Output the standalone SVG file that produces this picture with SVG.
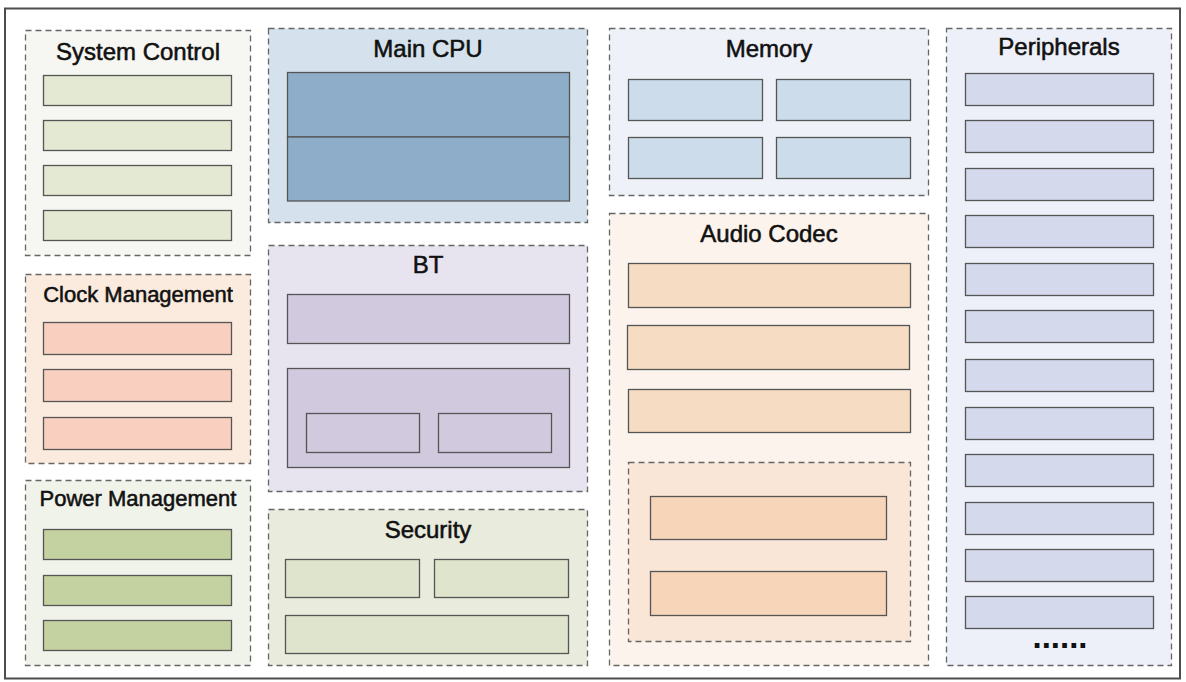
<svg xmlns="http://www.w3.org/2000/svg" width="1186" height="682" viewBox="0 0 1186 682">
<style>
.grp{stroke:#666;stroke-width:1.3;stroke-dasharray:6 4}
.blk{stroke:#555;stroke-width:1.3}
.t{font-family:"Liberation Sans",Arial,sans-serif;font-weight:normal;font-size:24px;fill:#111;stroke:#111;stroke-width:0.55;text-anchor:middle}
.ts{font-size:22px}
</style>
<rect x="0" y="0" width="1186" height="682" fill="#fff"/>
<rect id="frame" x="5" y="8.5" width="1175" height="670" fill="#fff" stroke="#4d4d4d" stroke-width="2"/>

<g id="system-control">
<rect class="grp" x="25.5" y="30.5" width="225" height="225" fill="#f6f7f2"/>
<text class="t" x="138" y="60">System Control</text>
<g fill="#e3e9d3">
<rect class="blk" x="43.5" y="75.5" width="188" height="30"/>
<rect class="blk" x="43.5" y="120.5" width="188" height="30"/>
<rect class="blk" x="43.5" y="165.5" width="188" height="30"/>
<rect class="blk" x="43.5" y="210.5" width="188" height="30"/>
</g>
</g>

<g id="clock-management">
<rect class="grp" x="25.5" y="274.5" width="225" height="189" fill="#fbebde"/>
<text class="t ts" x="138" y="302">Clock Management</text>
<g fill="#f9d0c0">
<rect class="blk" x="43.5" y="322.5" width="188" height="32"/>
<rect class="blk" x="43.5" y="369.5" width="188" height="32"/>
<rect class="blk" x="43.5" y="417.5" width="188" height="32"/>
</g>
</g>

<g id="power-management">
<rect class="grp" x="25.5" y="480.5" width="225" height="185" fill="#f0f3ea"/>
<text class="t ts" x="138" y="506">Power Management</text>
<g fill="#c4d1a0">
<rect class="blk" x="43.5" y="529.5" width="188" height="30"/>
<rect class="blk" x="43.5" y="575.5" width="188" height="30"/>
<rect class="blk" x="43.5" y="620.5" width="188" height="30"/>
</g>
</g>

<g id="main-cpu">
<rect class="grp" x="268.5" y="28.5" width="319" height="194" fill="#d5e2ed"/>
<text class="t" x="428" y="57">Main CPU</text>
<rect class="blk" x="287.5" y="72.5" width="282" height="64.5" fill="#8eadc9"/>
<rect class="blk" x="287.5" y="137" width="282" height="64" fill="#8eadc9"/>
</g>

<g id="bt">
<rect class="grp" x="268.5" y="245.5" width="319" height="246" fill="#e7e4ef"/>
<text class="t" x="428" y="273">BT</text>
<g fill="#d1c9de">
<rect class="blk" x="287.5" y="294.5" width="282" height="49"/>
<rect class="blk" x="287.5" y="368.5" width="282" height="99"/>
<rect class="blk" x="306.5" y="413.5" width="113" height="39"/>
<rect class="blk" x="438.5" y="413.5" width="113" height="39"/>
</g>
</g>

<g id="security">
<rect class="grp" x="268.5" y="509.5" width="319" height="156" fill="#e9ecdc"/>
<text class="t" x="428" y="538">Security</text>
<g fill="#dfe4cc">
<rect class="blk" x="285.5" y="559.5" width="134" height="38"/>
<rect class="blk" x="434.5" y="559.5" width="134" height="38"/>
<rect class="blk" x="285.5" y="615.5" width="283" height="38"/>
</g>
</g>

<g id="memory">
<rect class="grp" x="609.5" y="28.5" width="319" height="167" fill="#eef2f8"/>
<text class="t" x="769" y="57">Memory</text>
<g fill="#ccdcea">
<rect class="blk" x="628.5" y="79.5" width="134" height="41"/>
<rect class="blk" x="776.5" y="79.5" width="134" height="41"/>
<rect class="blk" x="628.5" y="137.5" width="134" height="41"/>
<rect class="blk" x="776.5" y="137.5" width="134" height="41"/>
</g>
</g>

<g id="audio-codec">
<rect class="grp" x="609.5" y="213.5" width="319" height="452" fill="#fcf4ec"/>
<text class="t" x="769" y="242">Audio Codec</text>
<g fill="#f6dcc2">
<rect class="blk" x="628.5" y="263.5" width="282" height="44"/>
<rect class="blk" x="627.5" y="325.5" width="282" height="44"/>
<rect class="blk" x="628.5" y="389.5" width="282" height="43"/>
</g>
<rect class="grp" x="628.5" y="462.5" width="282" height="179" fill="#f9e6d6"/>
<g fill="#f6d5b9">
<rect class="blk" x="650.5" y="496.5" width="236" height="43"/>
<rect class="blk" x="650.5" y="571.5" width="236" height="44"/>
</g>
</g>

<g id="peripherals">
<rect class="grp" x="946.5" y="28.5" width="225" height="637" fill="#edf0f8"/>
<text class="t" x="1059" y="55">Peripherals</text>
<g fill="#d4d9ec">
<rect class="blk" x="965.5" y="73.5" width="188" height="32"/>
<rect class="blk" x="965.5" y="120.5" width="188" height="32"/>
<rect class="blk" x="965.5" y="168.5" width="188" height="32"/>
<rect class="blk" x="965.5" y="215.5" width="188" height="32"/>
<rect class="blk" x="965.5" y="263.5" width="188" height="32"/>
<rect class="blk" x="965.5" y="310.5" width="188" height="32"/>
<rect class="blk" x="965.5" y="359.5" width="188" height="32"/>
<rect class="blk" x="965.5" y="407.5" width="188" height="32"/>
<rect class="blk" x="965.5" y="454.5" width="188" height="32"/>
<rect class="blk" x="965.5" y="502.5" width="188" height="32"/>
<rect class="blk" x="965.5" y="549.5" width="188" height="32"/>
<rect class="blk" x="965.5" y="596.5" width="188" height="32"/>
</g>
<text x="1060" y="648" font-family="Liberation Sans,Arial,sans-serif" font-weight="bold" font-size="33" text-anchor="middle" fill="#111">......</text>
</g>

<g id="connectors"></g>
</svg>
